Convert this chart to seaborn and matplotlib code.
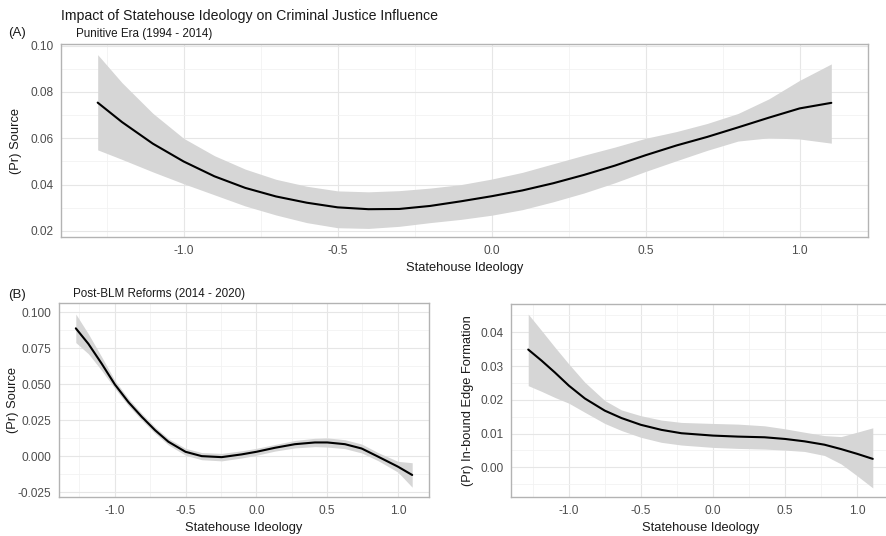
import matplotlib
matplotlib.use("Agg")
import matplotlib.pyplot as plt
from matplotlib.ticker import MultipleLocator, FormatStrFormatter
import pandas as pd
import seaborn as sns


# (A) Punitive Era: P(source) by statehouse ideology
A_X = [-1.279, -1.2, -1.1, -1.0, -0.9, -0.8, -0.7, -0.6, -0.5, -0.4, -0.3, -0.2, -0.1,
       0.0, 0.1, 0.2, 0.3, 0.4, 0.5, 0.6, 0.7, 0.8, 0.9, 1.0, 1.103]
A_FIT = [0.0754, 0.0670, 0.0577, 0.0500, 0.0436, 0.0386, 0.0349, 0.0322, 0.0302, 0.0294,
         0.0295, 0.0308, 0.0328, 0.0350, 0.0375, 0.0406, 0.0442, 0.0482, 0.0527, 0.0569,
         0.0606, 0.0647, 0.0689, 0.0729, 0.0753]
A_HI = [0.0961, 0.0840, 0.0708, 0.0600, 0.0525, 0.0467, 0.0423, 0.0393, 0.0373, 0.0369,
        0.0374, 0.0385, 0.0400, 0.0424, 0.0453, 0.0490, 0.0527, 0.0562, 0.0600, 0.0629,
        0.0664, 0.0707, 0.0770, 0.0850, 0.0921]
A_LO = [0.0550, 0.0509, 0.0455, 0.0404, 0.0356, 0.0308, 0.0269, 0.0236, 0.0214, 0.0211,
        0.0220, 0.0236, 0.0250, 0.0268, 0.0292, 0.0326, 0.0364, 0.0408, 0.0457, 0.0503,
        0.0548, 0.0588, 0.0602, 0.0597, 0.0579]

# (B) Post-BLM Reforms: P(source)
B1_X = [-1.275, -1.186, -1.092, -1.0, -0.904, -0.809, -0.715, -0.621, -0.5, -0.386, -0.245,
        -0.104, 0.0, 0.132, 0.273, 0.414, 0.501, 0.626, 0.744, 0.861, 1.0, 1.101]
B1_FIT = [0.0889, 0.0781, 0.0643, 0.0500, 0.0377, 0.0274, 0.0181, 0.0101, 0.0031, 0.0001, -0.0006,
          0.0013, 0.0031, 0.0059, 0.0084, 0.0096, 0.0096, 0.0084, 0.0054, -0.0003, -0.0072, -0.0130]
B1_HI = [0.0988, 0.0850, 0.0690, 0.0528, 0.0402, 0.0297, 0.0203, 0.0123, 0.0055, 0.0026, 0.0020,
         0.0038, 0.0055, 0.0082, 0.0110, 0.0125, 0.0128, 0.0115, 0.0085, 0.0025, -0.0035, -0.0045]
B1_LO = [0.0790, 0.0712, 0.0596, 0.0472, 0.0352, 0.0251, 0.0159, 0.0079, 0.0007, -0.0024, -0.0032,
         -0.0012, 0.0007, 0.0036, 0.0058, 0.0067, 0.0064, 0.0053, 0.0023, -0.0031, -0.0110, -0.0215]

# (B) Post-BLM Reforms: P(in-bound edge formation)
B2_X = [-1.282, -1.189, -1.097, -1.0, -0.889, -0.751, -0.635, -0.501, -0.358, -0.219,
        0.0, 0.173, 0.358, 0.501, 0.635, 0.774, 0.889, 1.0, 1.109]
B2_FIT = [0.0349, 0.0316, 0.0281, 0.0242, 0.0204, 0.0168, 0.0146, 0.0126, 0.0111, 0.0101,
          0.0094, 0.0091, 0.0089, 0.0084, 0.0077, 0.0067, 0.0054, 0.0040, 0.0025]
B2_HI = [0.0454, 0.0405, 0.0356, 0.0306, 0.0252, 0.0198, 0.0170, 0.0153, 0.0140, 0.0133,
         0.0130, 0.0128, 0.0123, 0.0114, 0.0104, 0.0094, 0.0091, 0.0104, 0.0117]
B2_LO = [0.0242, 0.0225, 0.0207, 0.0190, 0.0163, 0.0130, 0.0109, 0.0089, 0.0074, 0.0066,
         0.0059, 0.0056, 0.0054, 0.0051, 0.0047, 0.0035, 0.0010, -0.0025, -0.0061]

TITLE = "Impact of Statehouse Ideology on Criminal Justice Influence"
XLABEL = "Statehouse Ideology"

W, H = 886, 536
BORDER = "#B3B3B3"
TICK_TXT = "#4D4D4D"
FONT = ["Liberation Sans", "DejaVu Sans"]


def px_axes(fig, left, top, right, bottom):
    return fig.add_axes([left / W, 1 - bottom / H, (right - left) / W, (bottom - top) / H])


def draw_panel(ax, x, fit, lo, hi, ylabel, ylim, ymajor, yminor, yfmt, ylab_x):
    df = pd.DataFrame({"x": x, "fit": fit, "lo": lo, "hi": hi})
    ax.fill_between(df["x"], df["lo"], df["hi"], color="#D6D6D6", linewidth=0, zorder=2)
    sns.lineplot(data=df, x="x", y="fit", ax=ax, color="black", linewidth=1.5, zorder=3)

    xpad = 0.05 * (max(x) - min(x))
    ax.set_xlim(min(x) - xpad, max(x) + xpad)
    ax.set_ylim(*ylim)

    ax.xaxis.set_major_locator(MultipleLocator(0.5))
    ax.xaxis.set_minor_locator(MultipleLocator(0.25))
    ax.xaxis.set_major_formatter(FormatStrFormatter("%.1f"))
    ax.yaxis.set_major_locator(MultipleLocator(ymajor))
    ax.yaxis.set_minor_locator(MultipleLocator(yminor))
    ax.yaxis.set_major_formatter(FormatStrFormatter(yfmt))

    ax.set_facecolor("white")
    ax.grid(which="major", color="#E6E6E6", linewidth=0.8, zorder=0)
    ax.grid(which="minor", color="#F2F2F2", linewidth=0.6, zorder=0)
    ax.set_axisbelow(True)
    for sp in ax.spines.values():
        sp.set_visible(True)
        sp.set_color(BORDER)
        sp.set_linewidth(1.0)

    ax.tick_params(which="major", length=3, width=0.8, color=BORDER,
                   labelcolor=TICK_TXT, labelsize=8.6, pad=2.5)
    ax.tick_params(which="minor", length=0)
    ax.set_xlabel(XLABEL, fontsize=9.3, color="#1A1A1A", labelpad=4)
    ax.set_ylabel(ylabel, fontsize=9.3, color="#1A1A1A")
    ax.yaxis.set_label_coords(ylab_x, 0.5)


def main():
    sns.set_theme(style="white")
    plt.rcParams["font.family"] = FONT

    fig = plt.figure(figsize=(W / 100, H / 100), dpi=100)
    fig.patch.set_facecolor("white")

    ax_a = px_axes(fig, 61, 44, 868, 237)
    draw_panel(ax_a, A_X, A_FIT, A_LO, A_HI, "(Pr) Source", (0.0174, 0.1007),
               0.02, 0.01, "%.2f", -0.048)

    ax_b1 = px_axes(fig, 59, 303, 429, 497)
    draw_panel(ax_b1, B1_X, B1_FIT, B1_LO, B1_HI, "(Pr) Source", (-0.0283, 0.1065),
               0.025, 0.0125, "%.3f", -0.108)

    ax_b2 = px_axes(fig, 511, 304, 890, 497)
    draw_panel(ax_b2, B2_X, B2_FIT, B2_LO, B2_HI, "(Pr) In-bound Edge Formation",
               (-0.0088, 0.0484), 0.01, 0.005, "%.2f", -0.098)

    fig.text(61 / W, 1 - 20 / H, TITLE, fontsize=10.2, color="#1A1A1A", va="baseline")
    fig.text(8 / W, 1 - 36 / H, "(A)", fontsize=9.5, color="#1A1A1A", va="baseline")
    fig.text(76 / W, 1 - 37.5 / H, "Punitive Era (1994 - 2014)", fontsize=8.4,
             color="#1A1A1A", va="baseline")
    fig.text(8 / W, 1 - 298 / H, "(B)", fontsize=9.5, color="#1A1A1A", va="baseline")
    fig.text(73 / W, 1 - 297 / H, "Post-BLM Reforms (2014 - 2020)", fontsize=8.4,
             color="#1A1A1A", va="baseline")

    fig.savefig("out.png", dpi=100, facecolor="white")
    plt.close(fig)


if __name__ == "__main__":
    main()
